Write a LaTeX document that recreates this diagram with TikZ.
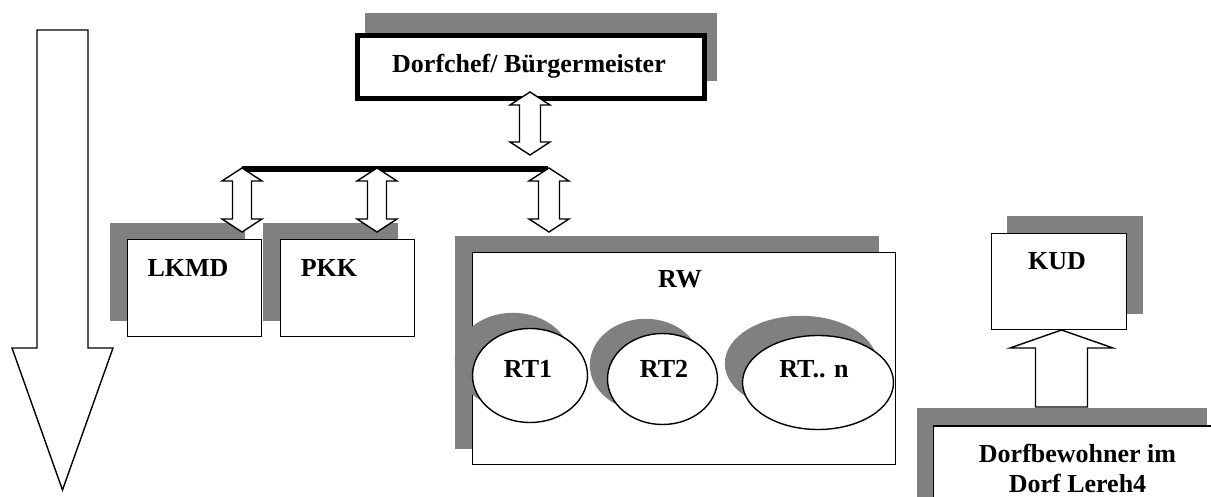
\documentclass[tikz,border=0pt]{standalone}
\usepackage{fontspec}
\setmainfont{Liberation Serif}
\usetikzlibrary{calc,shadows,shapes.geometric}
\definecolor{shadowgrey}{RGB}{128,128,128}

\begin{document}
\begin{tikzpicture}[x=1pt,y=-1pt,
  font=\fontsize{26}{30}\selectfont\bfseries,
  thinline/.style={line width=1.4pt},
  box/.style={draw, fill=white, line width=1.4pt, inner sep=0pt, outer sep=0pt},
  headbox/.style={box, line width=5pt},
  oval/.style={ellipse, box},
  drop/.style 2 args={copy shadow={shadow xshift=#1, shadow yshift=#2,
      fill=shadowgrey, draw=shadowgrey}},
  lbl/.style={anchor=base, inner sep=0pt, outer sep=0pt},
  % hollow double-headed arrow from \tikztostart (top) to \tikztotarget (bottom);
  % argument: half the shaft width
  dblarrow/.style={thinline, fill=white, to path={
    (\tikztostart) -- ++(20,13) -- ++({-20+#1},0)
    -- ($(\tikztotarget)+(#1,-13)$) -- ++({20-#1},0) -- (\tikztotarget)
    -- ++(-20,-13) -- ++({20-#1},0)
    -- ($(\tikztostart)+(-#1,13)$) -- ++({-20+#1},0) -- cycle}},
  % hollow single arrow pointing up, from its base to its tip
  uparrow/.style={thinline, fill=white, to path={
    (\tikztostart) -- ++(26,0) -- ($(\tikztotarget)+(26,18)$) -- ++(25.5,0)
    -- (\tikztotarget) -- ++(-51.5,18) -- ++(25.5,0)
    -- ($(\tikztostart)+(-26,0)$) -- cycle}},
]
\useasboundingbox (0,0) rectangle (1211,497);
\clip (0,0) rectangle (1211,497);

% big downward arrow on the left
\draw[thinline, fill=white] (37,30) -- (88,30) -- (88,348) -- (113,348)
  -- (62.5,490) -- (12,348) -- (37,348) -- cycle;

% head of the village
\node[headbox, drop={10pt}{20pt}, minimum width=346.5, minimum height=63]
  (boss) at (530.75,67.5) {};
\node[lbl] (tboss) at (529,73) {Dorfchef/ Bürgermeister};

% distribution bar
\coordinate (barL) at (242,169);
\coordinate (barR) at (548,169);
\draw[line width=5.5pt] (barL) -- (barR);

% institutions
\node[box, drop={-17pt}{16pt}, minimum width=134, minimum height=97]
  (lkmd) at (194.5,288) {};
\node[lbl] (tlkmd) at (188,277) {LKMD};
\node[box, drop={-17pt}{16pt}, minimum width=134, minimum height=97]
  (pkk) at (347.5,288) {};
\node[lbl] (tpkk) at (329,277) {PKK};

% RW with its RT units
\node[box, drop={-17pt}{16pt}, minimum width=423, minimum height=212]
  (rw) at (684,358.5) {};
\node[lbl] (trw) at (680,288) {RW};
\node[oval, drop={-17pt}{15pt}, minimum width=115, minimum height=94]
  (rt1) at (530,375.5) {};
\node[lbl] (trt1) at (528,377) {RT1};
\node[oval, drop={-17pt}{14pt}, minimum width=110, minimum height=91]
  (rt2) at (662.5,379) {};
\node[lbl] (trt2) at (664,377) {RT2};
\node[oval, drop={-17pt}{19pt}, minimum width=151, minimum height=94]
  (rtn) at (818,382.5) {};
\node[lbl] (trtn) at (814,377) {RT.. n};

% KUD and the villagers
\node[box, drop={16pt}{16.5pt}, minimum width=135, minimum height=96]
  (kud) at (1058.7,281.7) {};
\node[lbl] (tkud) at (1057,270) {KUD};
\node[box, drop={-16pt}{17pt}, minimum width=289, minimum height=134]
  (dorf) at (1078.25,493) {};
\node[lbl] (tdorf1) at (1077.5,462) {Dorfbewohner im};
\node[lbl] (tdorf2) at (1077.5,492) {Dorf Lereh4};

% connectors
\coordinate (a0t) at (530,92);  \coordinate (a0b) at (530,155);
\coordinate (a1t) at (242,168); \coordinate (a1b) at (242,232);
\coordinate (a2t) at (377,168); \coordinate (a2b) at (377,232);
\coordinate (a3t) at (549,168); \coordinate (a3b) at (549,232);
\draw[dblarrow=10.5] (a0t) to (a0b);
\draw[dblarrow=9.5]  (a1t) to (a1b);
\draw[dblarrow=9.5]  (a2t) to (a2b);
\draw[dblarrow=10.5] (a3t) to (a3b);

\coordinate (upb) at (1061.5,407);
\coordinate (upt) at (1061.5,330);
\draw[uparrow] (upb) to (upt);
\end{tikzpicture}
\end{document}
